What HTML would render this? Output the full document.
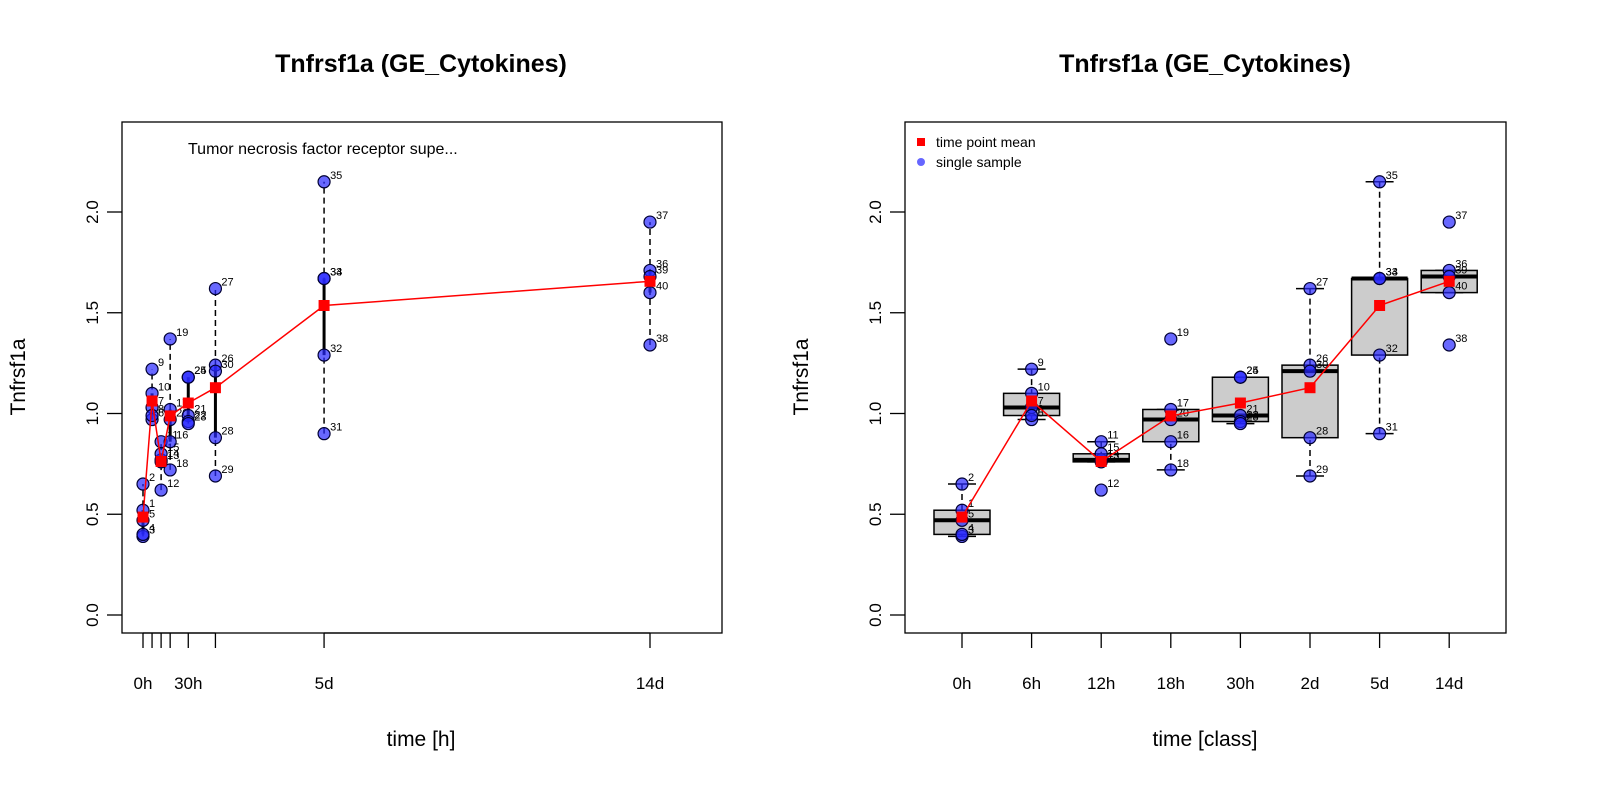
<!DOCTYPE html>
<html><head><meta charset="utf-8"><style>
body{margin:0;background:#fff}
svg text{font-family:"Liberation Sans",Arial,sans-serif}
</style></head><body>
<svg id="svg" width="1600" height="800" xmlns="http://www.w3.org/2000/svg"></svg>
<script>
const groupLabels=["0h","6h","12h","18h","30h","2d","5d","14d"];
const groupHours=[0,6,12,18,30,48,120,336];
const sampleIds=[1,2,3,4,5,6,7,8,9,10,11,12,13,14,15,16,17,18,19,20,21,22,23,24,25,26,27,28,29,30,31,32,33,34,35,36,37,38,39,40];
const sampleGroup=[0,0,0,0,0,1,1,1,1,1,2,2,2,2,2,3,3,3,3,3,4,4,4,4,4,5,5,5,5,5,6,6,6,6,6,7,7,7,7,7];
const sampleValues=[0.52,0.65,0.39,0.40,0.47,0.97,1.03,0.99,1.22,1.10,0.86,0.62,0.76,0.77,0.80,0.86,1.02,0.72,1.37,0.97,0.99,0.96,0.95,1.18,1.18,1.24,1.62,0.88,0.69,1.21,0.90,1.29,1.67,1.67,2.15,1.71,1.95,1.34,1.68,1.60];
const yTicks=[0,0.5,1,1.5,2];
const yTickLabels=["0.0","0.5","1.0","1.5","2.0"];
const leftXTickHours=[0,6,12,18,30,48,120,336];
const leftXTickLabels=["0h","","","","30h","","5d","14d"];

const svg=document.getElementById('svg');
const NS="http://www.w3.org/2000/svg";
function el(tag,attrs,parent,text){const e=document.createElementNS(NS,tag);for(const k in attrs)e.setAttribute(k,attrs[k]);if(text!==undefined)e.textContent=text;(parent||svg).appendChild(e);return e;}
const yScale=v=>615-201.5*v;
const xLeft=h=>143+h*(507/336);
const xRight=i=>962+i*69.6;

function fivenum(a){const x=[...a].sort((p,q)=>p-q);const n=x.length;const n4=Math.floor((n+3)/2)/2;const d=[1,n4,(n+1)/2,n+1-n4,n];return d.map(v=>0.5*(x[Math.floor(v)-1]+x[Math.ceil(v)-1]));}
const groups=groupLabels.map((_,g)=>sampleValues.filter((v,i)=>sampleGroup[i]===g));
const means=groups.map(a=>a.reduce((s,v)=>s+v,0)/a.length);

function frame(x0,x1,title,xlab,cx){
  let t=el('text',{x:cx,y:72,'text-anchor':'middle','font-size':25,'font-weight':'bold'},svg,title);
  
  let r=el('rect',{x:x0,y:122,width:x1-x0,height:511,fill:'none',stroke:'#000','stroke-width':1.3});
  
  yTicks.forEach((v,i)=>{const y=yScale(v);el('line',{x1:x0,x2:x0-15,y1:y,y2:y,stroke:'#000','stroke-width':1.3});
    const tl=el('text',{x:0,y:0,'text-anchor':'middle','font-size':17,transform:`translate(${x0-24},${y}) rotate(-90)`},svg,yTickLabels[i]);
    });
  const yl=el('text',{x:0,y:0,'text-anchor':'middle','font-size':21,transform:`translate(${x0-97},377) rotate(-90)`},svg,'Tnfrsf1a');
  
  const xl=el('text',{x:cx,y:746,'text-anchor':'middle','font-size':21},svg,xlab);
  
}
function points(xf){
  sampleValues.forEach((v,i)=>{const x=xf(sampleGroup[i]),y=yScale(v);
    const c=el('circle',{cx:x,cy:y,r:6,fill:'rgba(40,40,255,0.7)',stroke:'#000033','stroke-width':1.2});
    
    const t=el('text',{x:x+6,y:y-3,'font-size':11},svg,String(sampleIds[i]));
    });
}
function meanLine(xf){
  el('polyline',{points:means.map((m,g)=>xf(g)+','+yScale(m)).join(' '),fill:'none',stroke:'#f00','stroke-width':1.5});
  means.forEach((m,g)=>{const r=el('rect',{x:xf(g)-5.5,y:yScale(m)-5.5,width:11,height:11,fill:'#f00'});
    });
}

// LEFT
frame(122,722,'Tnfrsf1a (GE_Cytokines)','time [h]',421);
const ann=el('text',{x:188,y:154,'font-size':16},svg,'Tumor necrosis factor receptor supe...');

leftXTickHours.forEach((h,i)=>{const x=xLeft(h);el('line',{x1:x,x2:x,y1:633,y2:648,stroke:'#000','stroke-width':1.3});
  if(leftXTickLabels[i]){const t=el('text',{x:x,y:689,'text-anchor':'middle','font-size':17},svg,leftXTickLabels[i]);
  }});
el('line',{x1:xLeft(0),x2:xLeft(48),y1:633,y2:633,stroke:'#000','stroke-width':1.3});
el('line',{x1:xLeft(120),x2:xLeft(336),y1:633,y2:633,stroke:'#000','stroke-width':1.3});
groups.forEach((a,g)=>{const f=fivenum(a),x=xLeft(groupHours[g]);
  el('line',{x1:x,x2:x,y1:yScale(f[0]),y2:yScale(f[4]),stroke:'#000','stroke-width':1.5,'stroke-dasharray':'6,4'});
  el('line',{x1:x,x2:x,y1:yScale(f[1]),y2:yScale(f[3]),stroke:'#000','stroke-width':3});});
points(g=>xLeft(groupHours[g]));
meanLine(g=>xLeft(groupHours[g]));

// RIGHT
frame(905,1506,'Tnfrsf1a (GE_Cytokines)','time [class]',1205);
el('line',{x1:xRight(0),x2:xRight(7),y1:633,y2:633,stroke:'#000','stroke-width':1.3});
groupLabels.forEach((l,g)=>{const x=xRight(g);el('line',{x1:x,x2:x,y1:633,y2:648,stroke:'#000','stroke-width':1.3});
  const t=el('text',{x:x,y:689,'text-anchor':'middle','font-size':17},svg,l);
  });
groups.forEach((a,g)=>{const f=fivenum(a),x=xRight(g),iqr=f[3]-f[1];
  const s=[...a].sort((p,q)=>p-q);const lo=s.find(v=>v>=f[1]-1.5*iqr),hi=[...s].reverse().find(v=>v<=f[3]+1.5*iqr);
  el('line',{x1:x,x2:x,y1:yScale(lo),y2:yScale(f[1]),stroke:'#000','stroke-width':1.5,'stroke-dasharray':'6,4'});
  el('line',{x1:x,x2:x,y1:yScale(hi),y2:yScale(f[3]),stroke:'#000','stroke-width':1.5,'stroke-dasharray':'6,4'});
  [lo,hi].forEach(v=>el('line',{x1:x-14,x2:x+14,y1:yScale(v),y2:yScale(v),stroke:'#000','stroke-width':1.5}));
  const b=el('rect',{x:x-28,y:yScale(f[3]),width:56,height:yScale(f[1])-yScale(f[3]),fill:'#cccccc',stroke:'#000','stroke-width':1.5});
  
  el('line',{x1:x-28,x2:x+28,y1:yScale(f[2]),y2:yScale(f[2]),stroke:'#000','stroke-width':4});});
points(xRight);
meanLine(xRight);
const lg=el('g',{},svg);
el('rect',{x:917,y:138,width:8,height:8,fill:'#f00'},lg);
el('text',{x:936,y:147,'font-size':14},lg,'time point mean');
el('circle',{cx:921,cy:162,r:4,fill:'#6666ff'},lg);
el('text',{x:936,y:167,'font-size':14},lg,'single sample');
</script>
</body></html>
